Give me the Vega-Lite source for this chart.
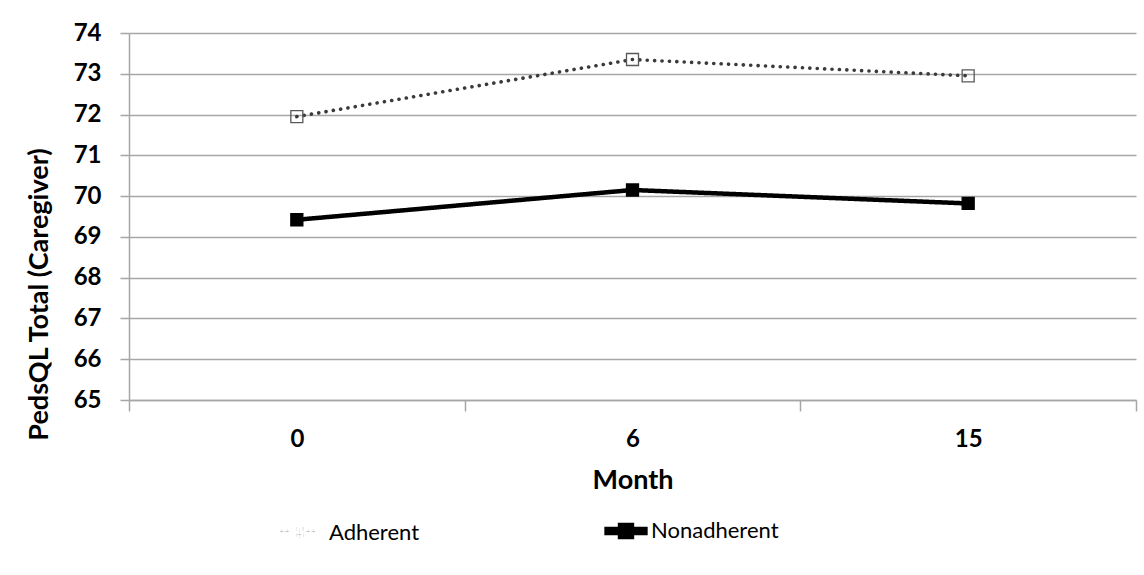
{
  "$schema": "https://vega.github.io/schema/vega-lite/v6.json",
  "width": 1007,
  "height": 367,
  "autosize": "none",
  "padding": {"left": 129, "top": 33, "right": 8, "bottom": 175},
  "background": "white",
  "config": {"font": "Lato", "view": {"stroke": null}},
  "data": {
    "values": [
      {"month": "0", "series": "Adherent", "value": 71.95},
      {"month": "6", "series": "Adherent", "value": 73.35},
      {"month": "15", "series": "Adherent", "value": 72.95},
      {"month": "0", "series": "Nonadherent", "value": 69.42},
      {"month": "6", "series": "Nonadherent", "value": 70.15},
      {"month": "15", "series": "Nonadherent", "value": 69.82}
    ]
  },
  "encoding": {
    "x": {
      "field": "month", "type": "ordinal", "sort": ["0", "6", "15"],
      "scale": {"type": "band", "paddingInner": 0, "paddingOuter": 0},
      "bandPosition": 0.5,
      "axis": {
        "title": "Month", "tickBand": "extent", "labelAngle": 0,
        "labelFont": "Lato", "labelFontSize": 24, "labelFontWeight": "bold", "labelColor": "black", "labelPadding": 16,
        "domainColor": "#a6a6a6", "domainWidth": 1.5, "tickColor": "#a6a6a6", "tickSize": 11, "tickWidth": 1.5,
        "grid": false,
        "titleFont": "Lato", "titleFontSize": 27, "titleFontWeight": "bold", "titleColor": "black", "titlePadding": 16
      }
    },
    "y": {
      "field": "value", "type": "quantitative",
      "scale": {"domain": [65, 74], "nice": false, "zero": false},
      "axis": {
        "title": "PedsQL Total (Caregiver)",
        "values": [65, 66, 67, 68, 69, 70, 71, 72, 73, 74],
        "labelFont": "Lato", "labelFontSize": 24, "labelFontWeight": "bold", "labelColor": "black", "labelPadding": 19,
        "domainColor": "#a6a6a6", "domainWidth": 1.5, "tickColor": "#a6a6a6", "tickSize": 9, "tickWidth": 1.5,
        "gridColor": "#a6a6a6", "gridWidth": 1.5,
        "titleFont": "Lato", "titleFontSize": 27, "titleFontWeight": "bold", "titleColor": "black",
        "titleX": -90, "titleY": 261, "titleAngle": -90, "titleAlign": "center", "titleBaseline": "middle"
      }
    }
  },
  "layer": [
    {
      "mark": {"type": "line", "strokeCap": "round", "strokeJoin": "round"},
      "encoding": {
        "color": {
          "field": "series", "type": "nominal",
          "scale": {"domain": ["Adherent", "Nonadherent"], "range": ["#3a3a3a", "#000000"]},
          "legend": {
            "orient": "none", "legendX": 156, "legendY": 478, "direction": "horizontal", "title": null,
            "symbolType": "square", "symbolSize": 1225,
            "labelFont": "Lato", "labelFontSize": 22, "labelColor": "black", "labelOffset": 5, "columnPadding": 177,
            "encode": {"symbols": {"update": {
              "shape": {"signal": "datum.value === 'Adherent' ? 'M-1.3,-0.115H-1.07V0.115H-1.3Z M-1.0,-0.115H-0.77V0.115H-1.0Z M0.2,-0.115H0.43V0.115H0.2Z M0.5,-0.115H0.73V0.115H0.5Z M-0.46,-0.23H0.0V-0.14H-0.46Z M-0.46,0.14H0.0V0.23H-0.46Z M-0.46,-0.23H-0.37V0.23H-0.46Z M-0.09,-0.23H0.0V0.23H-0.09Z M-0.3,-0.05H-0.16V0.09H-0.3Z' : 'M-1.11,-0.114H1.11V0.114H-1.11Z M-0.34,-0.34H0.34V0.34H-0.34Z'"},
              "fill": {"value": "#111111"},
              "fillOpacity": {"value": 1},
              "opacity": {"value": 1},
              "stroke": {"value": "transparent"},
              "strokeWidth": {"value": 0}
            }}}
          }
        },
        "strokeDash": {
          "field": "series", "type": "nominal",
          "scale": {"domain": ["Adherent", "Nonadherent"], "range": [[0.1, 7.3], [1, 0]]},
          "legend": null
        },
        "strokeWidth": {
          "field": "series", "type": "nominal",
          "scale": {"domain": ["Adherent", "Nonadherent"], "range": [3.6, 4.5]},
          "legend": null
        }
      }
    },
    {
      "mark": {"type": "point", "shape": "square", "size": 144, "filled": true, "strokeWidth": 1.3, "opacity": 1},
      "encoding": {
        "fill": {
          "field": "series", "type": "nominal",
          "scale": {"domain": ["Adherent", "Nonadherent"], "range": ["transparent", "#000000"]},
          "legend": null
        },
        "stroke": {
          "field": "series", "type": "nominal",
          "scale": {"domain": ["Adherent", "Nonadherent"], "range": ["#595959", "#000000"]},
          "legend": null
        }
      }
    }
  ]
}
